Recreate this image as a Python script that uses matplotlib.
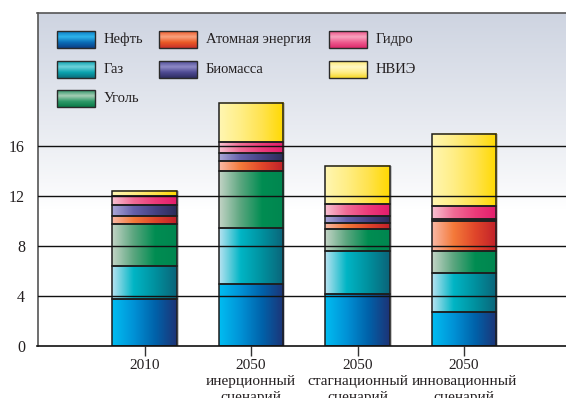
import numpy as np
import matplotlib
matplotlib.use("Agg")
import matplotlib.pyplot as plt
from matplotlib.colors import LinearSegmentedColormap, to_rgb

plt.rcParams['font.family'] = ['Liberation Serif', 'DejaVu Serif']

# Data: energy consumption by source, stacked per scenario
categories = ['2010',
              '2050\nинерционный\nсценарий',
              '2050\nстагнационный\nсценарий',
              '2050\nинновационный\nсценарий']
sources = ['Нефть', 'Газ', 'Уголь', 'Атомная энергия', 'Биомасса', 'Гидро', 'НВИЭ']
oil = [3.75, 4.95, 4.10, 2.70]
gas = [2.65, 4.50, 3.50, 3.10]
coal = [3.40, 4.55, 1.80, 1.80]
nuclear = [0.60, 0.85, 0.45, 2.40]
biomass = [0.90, 0.60, 0.55, 0.15]
hydro = [0.70, 0.90, 0.95, 1.05]
renewables = [0.45, 3.15, 3.10, 5.80]
yticks = [0, 4, 8, 12, 16]

series = [oil, gas, coal, nuclear, biomass, hydro, renewables]

# Horizontal gradients (left -> right) for each source
bar_grad = [
    ['#00BDF2', '#0092D6', '#0062AA', '#1D3376'],
    ['#B8E3F1', '#00B5C5', '#00909E', '#0B6479'],
    ['#C4D4C6', '#5BA67F', '#008D52', '#008650'],
    ['#FAB9A6', '#F47A3A', '#E0462A', '#C1202A'],
    ['#ABA7D8', '#6561AB', '#454283', '#2C2C59'],
    ['#F8C2D2', '#F06C96', '#EC3B7A', '#E31C6C'],
    ['#FFF6B2', '#FFEE86', '#FFE34E', '#FFD900'],
]
# Vertical gradients (top -> bottom) for legend swatches
leg_grad = [
    ['#0A7CC4', '#2FB4EA', '#0A6DB6', '#0B3F86'],
    ['#0AA0AE', '#6FD2DA', '#0AA3AF', '#0A6E7C'],
    ['#2E9468', '#A6CDB4', '#2E9A69', '#0A7A48'],
    ['#EE5A2A', '#F9A27E', '#EA5A25', '#C8302A'],
    ['#4F4C96', '#8E8AC6', '#4E4A92', '#2E2D62'],
    ['#EE4E86', '#F7A4BE', '#EE5A8E', '#DE2A6C'],
    ['#FFEA70', '#FFF8C4', '#FFEE88', '#F6D82A'],
]

W, H = 566, 398
fig = plt.figure(figsize=(W / 100, H / 100), dpi=100)
fig.patch.set_facecolor('white')

ax_left, ax_top, ax_bottom = 37.5, 13.0, 345.5
ax = fig.add_axes([ax_left / W, (H - ax_bottom) / H,
                   (W - ax_left) / W, (ax_bottom - ax_top) / H])

px_per_unit = 12.44
ymax = (ax_bottom - ax_top) / px_per_unit
step = 106.5
x0 = 144.5
xmin = (ax_left - x0) / step
xmax = (W - x0) / step

# Background: pale blue-gray fading to white
top_rgb = np.array(to_rgb('#CED4E1'))
fade = np.linspace(0, 1, 400)
white_until = 11.0 / ymax
t = np.clip((fade - white_until) / (1 - white_until), 0, 1) ** 0.9
bg = (1 - t)[:, None] * np.ones(3) + t[:, None] * top_rgb
ax.imshow(bg[:, None, :], extent=[0, 1, 0, 1], transform=ax.transAxes,
          origin='lower', aspect='auto', zorder=0, interpolation='bilinear')

x = np.arange(len(categories))
width = 0.61
grad_h = np.linspace(0, 1, 256)[None, :]

totals = np.sum(series, axis=0)
# soft shadow on the right of each column
ax.bar(x + 2.0 / step, totals, width=width, color='#9A9A9A', alpha=0.55,
       zorder=1.5, linewidth=0)

bottom = np.zeros(len(categories))
for vals, cols in zip(series, bar_grad):
    cmap = LinearSegmentedColormap.from_list('g', cols)
    bars = ax.bar(x, vals, bottom=bottom, width=width, facecolor='none',
                  edgecolor='#1E1E1E', linewidth=1.1, zorder=3)
    for rect in bars:
        bx, by = rect.get_x(), rect.get_y()
        bw, bh = rect.get_width(), rect.get_height()
        ax.imshow(grad_h, cmap=cmap, extent=[bx, bx + bw, by, by + bh],
                  aspect='auto', zorder=2, interpolation='bilinear')
    bottom = bottom + np.array(vals)

for yv in yticks[1:]:
    ax.axhline(yv, color='#111111', linewidth=1.0, zorder=4)

ax.set_xlim(xmin, xmax)
ax.set_ylim(0, ymax)
ax.set_xticks(x)
ax.set_xticklabels(categories)
ax.set_yticks(yticks)
ax.set_yticklabels([str(v) for v in yticks])
ax.tick_params(axis='x', length=7, width=1, color='#333333', pad=3,
               labelsize=11, labelcolor='#231F20')
ax.tick_params(axis='y', length=0, pad=9, labelsize=11.5, labelcolor='#231F20')
for lbl in ax.get_xticklabels():
    lbl.set_linespacing(1.3)

for side in ['left', 'top']:
    ax.spines[side].set_color('#555555')
    ax.spines[side].set_linewidth(1.2)
ax.spines['right'].set_visible(False)
ax.spines['bottom'].set_color('#111111')
ax.spines['bottom'].set_linewidth(1.2)
ax.spines['bottom'].set_zorder(5)

# Legend drawn in pixel coordinates
lax = fig.add_axes([0, 0, 1, 1], zorder=10)
lax.set_xlim(0, W)
lax.set_ylim(H, 0)
lax.axis('off')
lax.patch.set_alpha(0)

col_x = [56.7, 158.7, 328.5]
row_y = [30.7, 60.7, 90.0]
slots = [(0, 0), (0, 1), (0, 2), (1, 0), (1, 1), (2, 0), (2, 1)]
bw_px, bh_px = 38, 17
grad_v = np.linspace(0, 1, 64)[:, None]
for name, cols, (c, r) in zip(sources, leg_grad, slots):
    lx, ly = col_x[c], row_y[r]
    cmap = LinearSegmentedColormap.from_list('l', cols)
    lax.imshow(grad_v, cmap=cmap, extent=[lx, lx + bw_px, ly + bh_px, ly],
               aspect='auto', interpolation='bilinear', zorder=1)
    lax.add_patch(plt.Rectangle((lx, ly), bw_px, bh_px, facecolor='none',
                                edgecolor='#2A2A2A', linewidth=1.0, zorder=2))
    lax.text(lx + 47, ly + bh_px / 2, name, ha='left', va='center',
             fontsize=10.5, color='#231F20')
lax.set_xlim(0, W)
lax.set_ylim(H, 0)

fig.savefig('out.png', dpi=100)
